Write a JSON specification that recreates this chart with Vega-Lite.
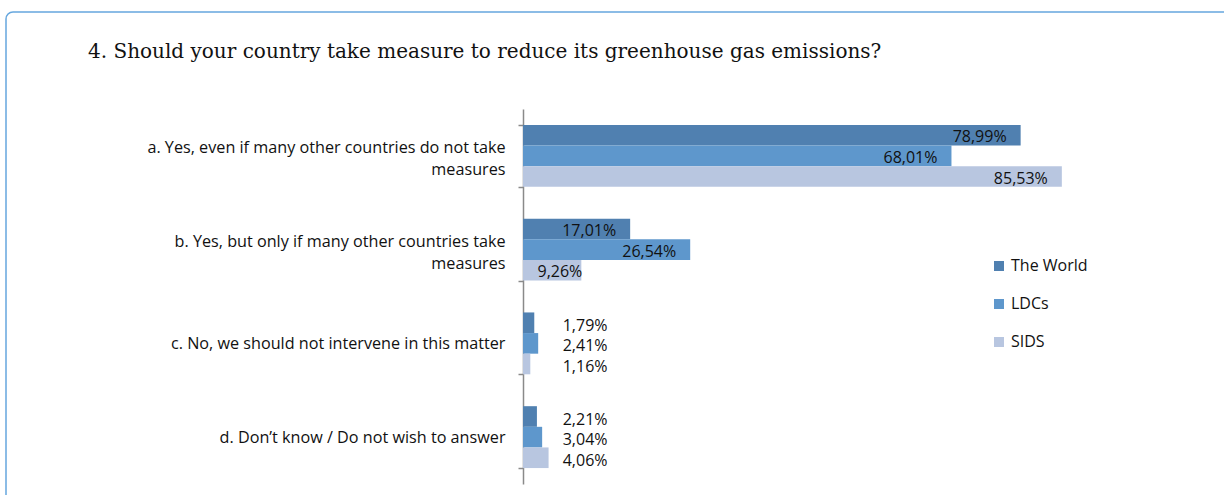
{
  "$schema": "https://vega.github.io/schema/vega-lite/v6.json",
  "width": 1230,
  "height": 500,
  "autosize": {"type": "none"},
  "padding": {"left": 6, "top": 12, "right": 0, "bottom": 0},
  "background": "white",
  "title": {
    "text": "4. Should your country take measure to reduce its greenhouse gas emissions?",
    "anchor": "start",
    "frame": "group",
    "orient": "top",
    "offset": -74,
    "dx": 82,
    "baseline": "alphabetic",
    "font": "DejaVu Serif",
    "fontSize": 20,
    "fontWeight": "normal",
    "color": "#111111"
  },
  "config": {
    "view": {"stroke": "#66a7de", "strokeWidth": 1.5, "cornerRadius": 7, "fill": "white"}
  },
  "data": {
    "values": [
      {"category": "a. Yes, even if many other countries do not take|measures", "series": "The World", "value": 78.99},
      {"category": "a. Yes, even if many other countries do not take|measures", "series": "LDCs", "value": 68.01},
      {"category": "a. Yes, even if many other countries do not take|measures", "series": "SIDS", "value": 85.53},
      {"category": "b. Yes, but only if many other countries take|measures", "series": "The World", "value": 17.01},
      {"category": "b. Yes, but only if many other countries take|measures", "series": "LDCs", "value": 26.54},
      {"category": "b. Yes, but only if many other countries take|measures", "series": "SIDS", "value": 9.26},
      {"category": "c. No, we should not intervene in this matter", "series": "The World", "value": 1.79},
      {"category": "c. No, we should not intervene in this matter", "series": "LDCs", "value": 2.41},
      {"category": "c. No, we should not intervene in this matter", "series": "SIDS", "value": 1.16},
      {"category": "d. Don’t know / Do not wish to answer", "series": "The World", "value": 2.21},
      {"category": "d. Don’t know / Do not wish to answer", "series": "LDCs", "value": 3.04},
      {"category": "d. Don’t know / Do not wish to answer", "series": "SIDS", "value": 4.06}
    ]
  },
  "transform": [
    {"calculate": "replace(format(datum.value, '.2f'), '.', ',') + '%'", "as": "label"}
  ],
  "encoding": {
    "y": {
      "field": "category",
      "type": "nominal",
      "sort": null,
      "scale": {"range": [97, 472], "paddingInner": 0.34, "paddingOuter": 0.17},
      "axis": {
        "title": null,
        "orient": "left",
        "offset": -517,
        "labelExpr": "split(datum.label, '|')",
        "labelAlign": "right",
        "labelBaseline": "middle",
        "labelOffset": {"condition": {"test": "indexof(datum.label, '|') >= 0", "value": -8}, "value": 0},
        "labelFont": "Open Sans",
        "labelFontSize": 16.2,
        "labelColor": "#111111",
        "labelLineHeight": 22,
        "labelPadding": 13,
        "labelLimit": 500,
        "tickBand": "extent",
        "tickSize": 5,
        "tickColor": "#8a8a8a",
        "domainColor": "#8a8a8a",
        "tickWidth": 1.5,
        "domainWidth": 1.5,
        "grid": false
      }
    },
    "yOffset": {
      "field": "series",
      "type": "nominal",
      "sort": ["The World", "LDCs", "SIDS"],
      "scale": {"paddingInner": 0, "paddingOuter": 0}
    }
  },
  "layer": [
    {
      "mark": {"type": "bar"},
      "encoding": {
        "x": {
          "field": "value",
          "type": "quantitative",
          "scale": {"domain": [0, 100], "range": [517, 1147]},
          "axis": null
        },
        "color": {
          "field": "series",
          "type": "nominal",
          "sort": ["The World", "LDCs", "SIDS"],
          "scale": {"domain": ["The World", "LDCs", "SIDS"], "range": ["#5080b0", "#5e97cc", "#b8c6e0"]},
          "legend": {
            "title": null,
            "orient": "none",
            "legendX": 985,
            "legendY": 246,
            "direction": "vertical",
            "symbolType": "square",
            "symbolSize": 100,
            "symbolStrokeWidth": 0,
            "labelFont": "Open Sans",
            "labelFontSize": 16,
            "labelColor": "#111111",
            "labelOffset": 4,
            "rowPadding": 22
          }
        }
      }
    },
    {
      "transform": [{"filter": "datum.value > 10"}],
      "mark": {"type": "text", "align": "right", "baseline": "middle", "dx": -14, "dy": 2, "font": "Open Sans", "fontSize": 16, "color": "#111111"},
      "encoding": {
        "x": {"field": "value", "type": "quantitative"},
        "text": {"field": "label"}
      }
    },
    {
      "transform": [{"filter": "datum.value > 5 && datum.value <= 10"}],
      "mark": {"type": "text", "align": "right", "baseline": "middle", "dx": 1, "dy": 2, "font": "Open Sans", "fontSize": 16, "color": "#111111"},
      "encoding": {
        "x": {"field": "value", "type": "quantitative"},
        "text": {"field": "label"}
      }
    },
    {
      "transform": [{"filter": "datum.value <= 5"}],
      "mark": {"type": "text", "align": "left", "baseline": "middle", "dy": 3, "font": "Open Sans", "fontSize": 16, "color": "#111111"},
      "encoding": {
        "x": {"datum": 6.3, "type": "quantitative"},
        "text": {"field": "label"}
      }
    }
  ]
}
